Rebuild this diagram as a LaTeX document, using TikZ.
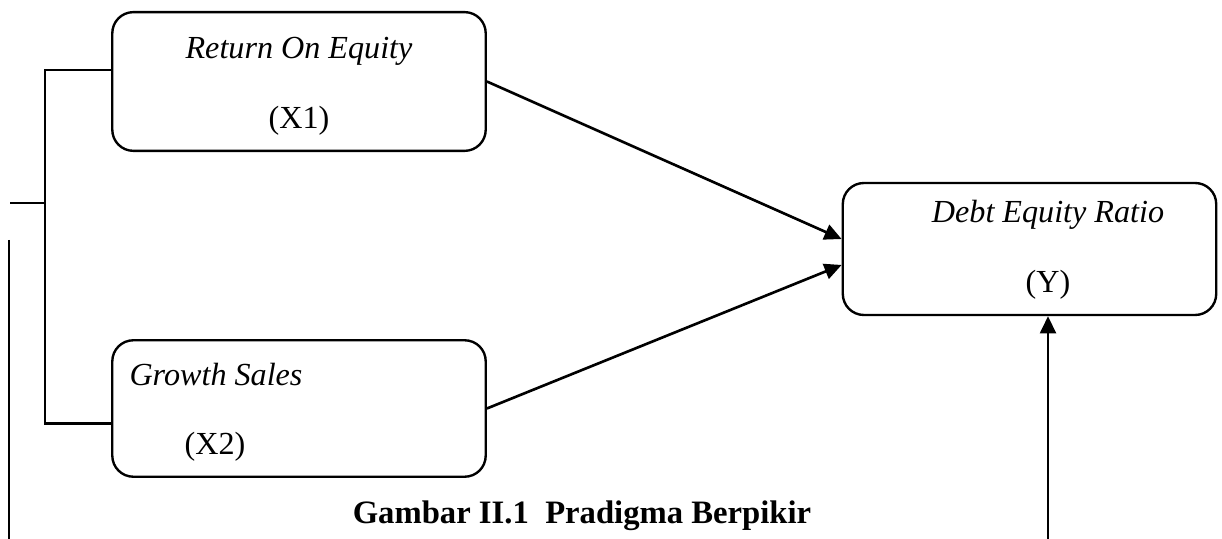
\documentclass[tikz,border=0pt]{standalone}
\usepackage{fontspec}
\setmainfont{Liberation Serif}
\usepackage{tikz}
\usetikzlibrary{arrows.meta,calc}
\tikzstyle{box}=[draw,rounded corners=8pt,line width=0.9pt,minimum width=4.98cm,inner sep=0pt]
\tikzstyle{label}=[font=\fontsize{12.2}{14}\selectfont,inner sep=0pt]
\tikzstyle{edge} = [draw,line width=1pt,-{Triangle[length=6.5pt,width=6pt]}]
\tikzstyle{plainedge} = [draw,line width=0.9pt]

\begin{document}
\begin{tikzpicture}[x=0.01333cm,y=-0.01333cm]
    \useasboundingbox (0,0) rectangle (1222,539);

    \node[box,minimum height=1.85cm] (roe) at (299,81.5) {};
    \node[box,minimum height=1.82cm] (gs) at (299,408.5) {};
    \node[box,minimum height=1.76cm] (der) at (1029.5,249) {};

    % box texts
    \node[label] (roename) at (299,51) {\textit{Return On Equity}};
    \node[label] (roevar) at (299,121) {(X1)};
    \node[label,anchor=west] (gsname) at (129,375) {\textit{Growth Sales}};
    \node[label] (gsvar) at (215,447) {(X2)};
    \node[label] (dername) at (1048,215) {\textit{Debt Equity Ratio}};
    \node[label] (dervar) at (1048,285) {(Y)};

    % bracket on the left
    \coordinate (join) at (45,203);
    \coordinate (stub) at (10,203);
    \coordinate (linetop) at (9,240);
    \coordinate (linebot) at (9,539);
    \path[plainedge] ([yshift=0.153cm]roe.west) -| (join) |- ([yshift=-0.2cm]gs.west);
    \path[plainedge] (join) -- (stub);
    \path[plainedge] (linetop) -- (linebot);

    % arrows into Y
    \path[edge] (roe.east) -- ([yshift=0.133cm]der.west);
    \path[edge] (gs.east) -- ([yshift=-0.213cm]der.west);
    \coordinate (upbase) at (1048,539);
    \path[edge] (upbase) -- (der.south -| upbase);

    \node[font=\fontsize{12.4}{14}\selectfont\bfseries] (caption) at (582,516) {Gambar II.1\ \ Pradigma Berpikir};
\end{tikzpicture}
\end{document}
